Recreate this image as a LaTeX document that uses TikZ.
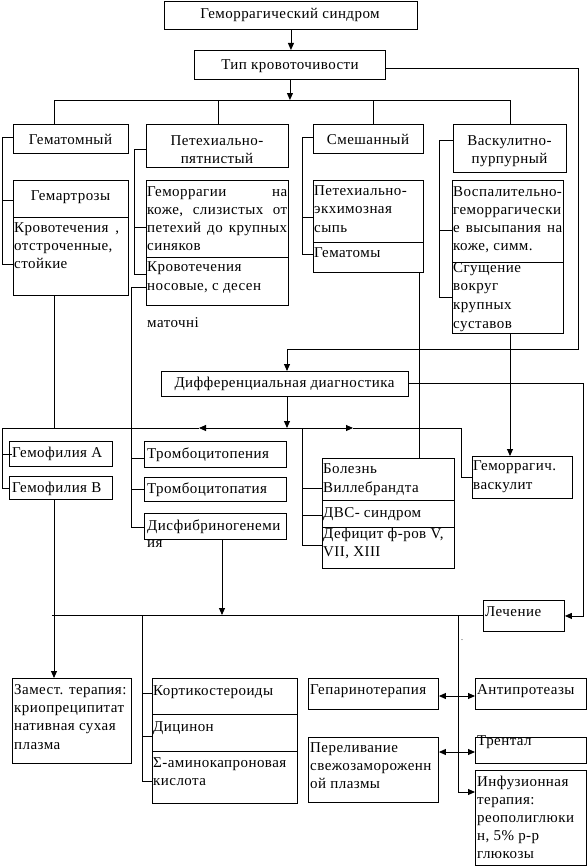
\documentclass[tikz,border=0pt]{standalone}
\usepackage{fontspec}
\setmainfont{Liberation Serif}[LetterSpace=3]
\usetikzlibrary{arrows.meta,calc}
\newcommand\dtf{\fontsize{15}{18}\selectfont}
\newcommand\st{\rule{0pt}{14pt}}
\begin{document}
\begin{tikzpicture}[x=1pt,y=-1pt,
 box/.style={draw,line width=0.9pt,rectangle,inner sep=0pt,anchor=north west},
 ln/.style={line width=0.9pt},
 arr/.style={ln,-{Triangle[length=7pt,width=6pt]}},
 dbl/.style={ln,{Triangle[length=7pt,width=6pt]}-{Triangle[length=7pt,width=6pt]}},
 tl/.style={inner sep=0pt,anchor=north west,align=left,font=\dtf},
 tc/.style={inner sep=0pt,anchor=north,align=center,font=\dtf}]
\fill[white] (0,0) rectangle (587,867);
\useasboundingbox (0,0) rectangle (587,867);

% ---------- boxes ----------
\node[box,minimum width=253pt,minimum height=28pt] (top) at (164,1) {};
\node[box,minimum width=191pt,minimum height=29pt] (tip) at (194,50) {};
\node[box,minimum width=115pt,minimum height=29pt] (gemat) at (13,124) {};
\node[box,minimum width=142pt,minimum height=43pt] (petp) at (146,124) {};
\node[box,minimum width=110pt,minimum height=29pt] (smesh) at (313,124) {};
\node[box,minimum width=113pt,minimum height=48pt] (vaskp) at (453,124) {};
\node[box,minimum width=115pt,minimum height=115pt] (gemartr) at (13,180) {};
\node[box,minimum width=142pt,minimum height=125pt] (petbox) at (146,180) {};
\node[box,minimum width=110pt,minimum height=92pt] (smbox) at (313,180) {};
\node[box,minimum width=111pt,minimum height=153pt] (vabox) at (452,180) {};
\node[box,minimum width=247pt,minimum height=25pt] (diff) at (161,371) {};
\node[box,minimum width=103pt,minimum height=25pt] (gemA) at (9,441) {};
\node[box,minimum width=103pt,minimum height=23pt] (gemB) at (9,476) {};
\node[box,minimum width=142pt,minimum height=26pt] (tcpen) at (144,441) {};
\node[box,minimum width=142pt,minimum height=24pt] (tcpat) at (144,477) {};
\node[box,minimum width=142pt,minimum height=26pt] (disf) at (144,513) {};
\node[box,minimum width=132pt,minimum height=110pt] (bolez) at (322,458) {};
\node[box,minimum width=100pt,minimum height=42pt] (gvask) at (472,456) {};
\node[box,minimum width=81pt,minimum height=31pt] (lech) at (483,600) {};
\node[box,minimum width=119pt,minimum height=85pt] (zamest) at (12,678) {};
\node[box,minimum width=145pt,minimum height=125pt] (kort) at (152,678) {};
\node[box,minimum width=130pt,minimum height=31pt] (gepar) at (308,678) {};
\node[box,minimum width=111pt,minimum height=31pt] (antip) at (475,678) {};
\node[box,minimum width=111pt,minimum height=26pt] (trent) at (475,737) {};
\node[box,minimum width=130pt,minimum height=65pt] (perel) at (308,737) {};
\node[box,minimum width=111pt,minimum height=95pt] (infuz) at (475,770) {};

% dividers
\draw[ln] (gemartr.west |- 0,217) -- (gemartr.east |- 0,217);
\draw[ln] (petbox.west |- 0,257) -- (petbox.east |- 0,257);
\draw[ln] (smbox.west |- 0,242) -- (smbox.east |- 0,242);
\draw[ln] (vabox.west |- 0,262) -- (vabox.east |- 0,262);
\draw[ln] (bolez.west |- 0,500) -- (bolez.east |- 0,500);
\draw[ln] (bolez.west |- 0,527) -- (bolez.east |- 0,527);
\draw[ln] (kort.west |- 0,714) -- (kort.east |- 0,714);
\draw[ln] (kort.west |- 0,751) -- (kort.east |- 0,751);

% ---------- texts ----------
\node[tc] (ttop) at (290,4) {\st Геморрагический синдром};
\node[tc] (ttip) at (290,55) {\st Тип кровоточивости};
\node[tc] (tgemat) at (70.5,130) {\st Гематомный};
\node[tc] (tpetp) at (217,131) {\st Петехиально-\\пятнистый};
\node[tc] (tsmesh) at (368,130) {\st Смешанный};
\node[tc] (tvaskp) at (509.5,131) {\st Васкулитно-\\пурпурный};
\node[tc] (tgemartr) at (70.5,186) {\st Гемартрозы};
\node[tl] (tgem2) at (14,218) {\st\makebox[105pt][l]{Кровотечения\hfill ,}\\отстроченные,\\стойкие};
\node[tl] (tpet1) at (147,182) {\st\makebox[140pt][l]{Геморрагии\hfill на}\\\makebox[140pt][l]{коже,\hfill слизистых\hfill от}\\\makebox[140pt][l]{петехий\hfill до\hfill крупных}\\синяков};
\node[tl,font=\fontsize{15}{19}\selectfont] (tpet2) at (147,257) {\st Кровотечения\\носовые, с десен};
\node[tl] (tmat) at (147,313) {\st маточні};
\node[tl,font=\fontsize{15}{18.7}\selectfont] (tsm1) at (314,181) {\st Петехиально-\\экхимозная\\сыпь};
\node[tl] (tsm2) at (314,243) {\st Гематомы};
\node[tl] (tva1) at (453,182) {\st Воспалительно-\\геморрагически\\\makebox[109pt][l]{е\hfill высыпания\hfill на}\\коже, симм.};
\node[tl,font=\fontsize{15}{18.7}\selectfont] (tva2) at (453,258) {\st Сгущение\\вокруг\\крупных\\суставов};
\node[tc] (tdiff) at (284.5,373) {\st Дифференциальная диагностика};
\node[tl] (tgemA) at (12,443) {\st Гемофилия А};
\node[tl] (tgemB) at (12,478) {\st Гемофилия В};
\node[tl] (ttcpen) at (147,444) {\st Тромбоцитопения};
\node[tl] (ttcpat) at (147,479) {\st Тромбоцитопатия};
\node[tl,font=\fontsize{15}{17}\selectfont] (tdisf) at (147,516) {\st Дисфибриногенеми\\ия};
\node[tl,font=\fontsize{15}{19}\selectfont] (tbol) at (323,459) {\st Болезнь\\Виллебрандта};
\node[tl] (tdvs) at (323,503) {\st ДВС- синдром};
\node[tl] (tdef) at (323,524) {\st Дефицит ф-ров V,\\VII, XIII};
\node[tl,font=\fontsize{15}{19}\selectfont] (tgv) at (473,456) {\st Геморрагич.\\васкулит};
\node[tl] (tlech) at (485,602) {\st Лечение};
\node[tl,font=\fontsize{15}{18.3}\selectfont] (tzam) at (14,680) {\st Замест. терапия:\\криопреципитат\\нативная сухая\\плазма};
\node[tl] (tkort) at (153,681) {\st Кортикостероиды};
\node[tl] (tdic) at (153,717) {\st Дицинон};
\node[tl] (tamin) at (153,753) {\st Σ-аминокапроновая\\кислота};
\node[tl] (tgepar) at (310,680) {\st Гепаринотерапия};
\node[tl] (tantip) at (477,680) {\st Антипротеазы};
\node[tl] (ttrent) at (477,731) {\st Трентал};
\node[tl] (tperel) at (310,738) {\st Переливание\\свежозамороженн\\ой плазмы};
\node[tl] (tinf) at (477,772) {\st Инфузионная\\терапия:\\реополиглюки\\н, 5\% р-р\\глюкозы};
\node[inner sep=0pt,font=\fontsize{8}{8}\selectfont] (dot) at (462,640) {.};

% ---------- coordinates ----------
\coordinate (b1L) at (54,100);
\coordinate (b1R) at (510,100);
\coordinate (c218) at (218,100);
\coordinate (c373) at (373,100);
\coordinate (rc1) at (578,68);
\coordinate (dtop) at (287,349);
\coordinate (brA) at (2,0);
\coordinate (brP) at (134,0);
\coordinate (brS) at (302,0);
\coordinate (brV) at (439,0);
\coordinate (c54) at (54,0);
\coordinate (c131) at (131,0);
\coordinate (c419) at (419,0);
\coordinate (c510) at (510,0);
\coordinate (b2L) at (2,428);
\coordinate (b2R) at (461,428);
\coordinate (b2la) at (199,428);
\coordinate (b2ra) at (353,428);
\coordinate (b2m) at (287,428);
\coordinate (rc2) at (583,383);
\coordinate (c222) at (222,0);
\coordinate (b3L) at (52,615);
\coordinate (c142) at (142,615);
\coordinate (c458) at (458,615);

% ---------- connectors ----------
\draw[arr] (top.south) -- (top.south |- tip.north);
\draw[arr] (tip.south) -- (tip.south |- b1L);
\draw[ln] (b1L) -- (b1R);
\draw[ln] (b1L) -- (b1L |- gemat.north);
\draw[ln] (c218) -- (c218 |- petp.north);
\draw[ln] (c373) -- (c373 |- smesh.north);
\draw[ln] (b1R) -- (b1R |- vaskp.north);
\draw[arr] (tip.east |- rc1) -- (rc1) -- (rc1 |- dtop) -- (dtop) -- (dtop |- diff.north);

% brackets of the types
\draw[ln] (gemat.west |- 0,137) -- (brA |- 0,137) -- (brA |- 0,264) -- (gemartr.west |- 0,264);
\draw[ln] (brA |- 0,200) -- (gemartr.west |- 0,200);
\draw[ln] (petp.west |- 0,149) -- (brP |- 0,149) -- (brP |- 0,274) -- (petbox.west |- 0,274);
\draw[ln] (brP |- 0,227) -- (petbox.west |- 0,227);
\draw[ln] (smesh.west |- 0,137) -- (brS |- 0,137) -- (brS |- 0,254) -- (smbox.west |- 0,254);
\draw[ln] (brS |- 0,217) -- (smbox.west |- 0,217);
\draw[ln] (vaskp.west |- 0,140) -- (brV |- 0,140) -- (brV |- 0,297) -- (vabox.west |- 0,297);
\draw[ln] (brV |- 0,230) -- (vabox.west |- 0,230);

% verticals down to diagnostics
\draw[ln] (gemartr.south -| c54) -- (c54 |- b2L);
\draw[ln] (petbox.west |- 0,287) -- (c131 |- 0,287) -- (c131 |- 0,527) -- (disf.west |- 0,527);
\draw[ln] (c131 |- 0,458) -- (tcpen.west |- 0,458);
\draw[ln] (c131 |- 0,489) -- (tcpat.west |- 0,489);
\draw[ln] (smbox.south -| c419) -- (c419 |- bolez.north);
\draw[arr] (vabox.south -| c510) -- (c510 |- gvask.north);

% diagnostics bus
\draw[arr] (diff.south -| dtop) -- (b2m);
\draw[arr] (b2m) -- (b2la);
\draw[arr] (b2m) -- (b2ra);
\draw[ln] (b2la) -- (b2L) -- (b2L |- gemB.west) -- (gemB.west);
\draw[ln] (b2L |- gemA.west) -- ($(gemA.west)+(3,0)$);
\draw[ln] (b2ra) -- (b2R) |- (gvask.west);
\draw[ln] (brS |- b2L) -- (brS |- 0,545) -- (bolez.west |- 0,545);
\draw[ln] (brS |- 0,488) -- (bolez.west |- 0,488);
\draw[ln] (brS |- 0,515) -- (bolez.west |- 0,515);

% to treatment
\draw[arr] (diff.east |- rc2) -- (rc2) |- (lech.east);
\draw[arr] (disf.south -| c222) -- (c222 |- b3L);
\draw[ln] (b3L) -- (lech.west |- b3L);
\draw[arr] (gemB.south -| c54) -- (c54 |- zamest.north);
\draw[ln] (c142) -- (c142 |- 0,781) -- (kort.west |- 0,781);
\draw[ln] (c142 |- 0,693) -- (kort.west |- 0,693);
\draw[ln] (c142 |- 0,736) -- (kort.west |- 0,736);
\draw[arr] (c458) -- (c458 |- 0,792) -- (infuz.west |- 0,792);
\draw[dbl] (gepar.east |- 0,696) -- (antip.west |- 0,696);
\draw[dbl] (perel.east |- 0,752) -- (trent.west |- 0,752);
\end{tikzpicture}
\end{document}
